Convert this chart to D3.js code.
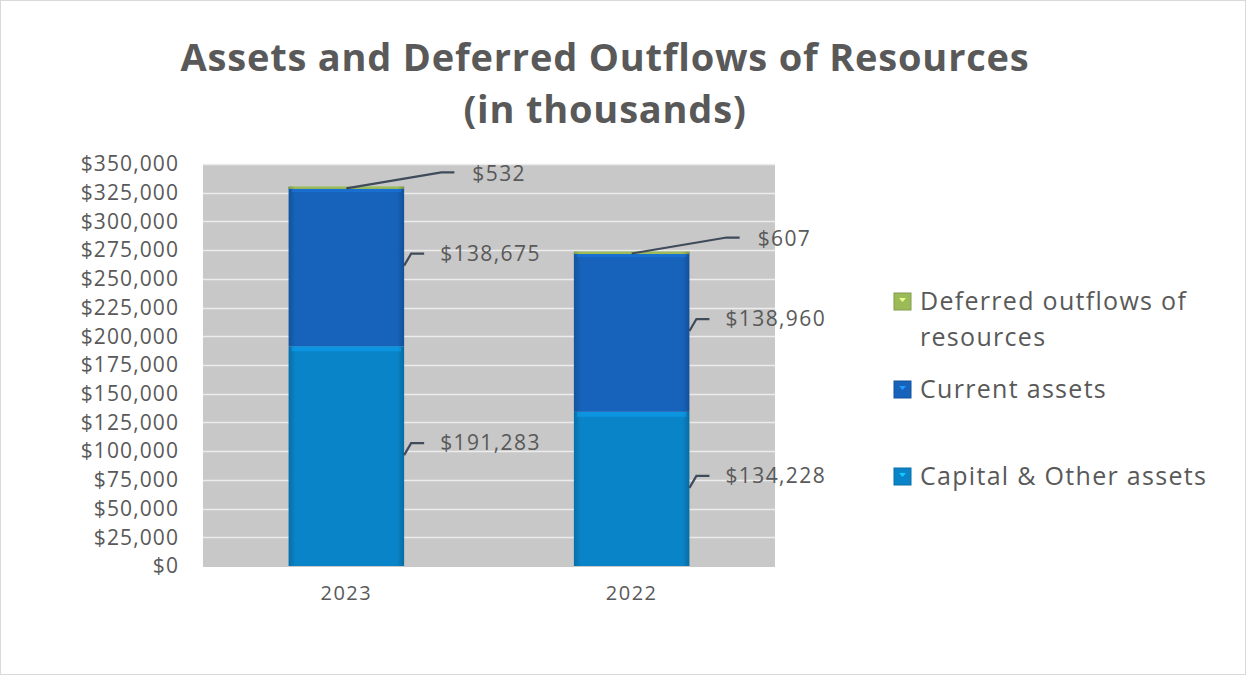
<!DOCTYPE html>
<html>
<head>
<meta charset="utf-8">
<script src="https://cdn.jsdelivr.net/npm/d3@7"></script>
<style>
  html, body { margin: 0; padding: 0; background: #fff; }
  svg { display: block; }
  text { font-family: "Open Sans", "Noto Sans", sans-serif; fill: #595959; }
</style>
</head>
<body>
<svg id="chart" width="1246" height="675"></svg>
<script>
// ---- data ----
const categories = ["2023", "2022"];
const seriesNames = ["Capital & Other assets", "Current assets", "Deferred outflows of resources"];
const capitalOther = [191283, 134228];
const currentAssets = [138675, 138960];
const deferredOutflows = [532, 607];
const yTicks = [0, 25000, 50000, 75000, 100000, 125000, 150000, 175000, 200000, 225000, 250000, 275000, 300000, 325000, 350000];
const titleLines = ["Assets and Deferred Outflows of Resources", "(in thousands)"];
const legendOrder = ["Deferred outflows of resources", "Current assets", "Capital & Other assets"];
const legendLines = [["Deferred outflows of", "resources"], ["Current assets"], ["Capital & Other assets"]];

const colors = {
  "Capital & Other assets": "#0a84c8",
  "Current assets": "#1763bb",
  "Deferred outflows of resources": "#9bbb59"
};

const svg = d3.select("#chart");
const W = 1246, H = 675;

// frame
svg.append("rect").attr("x", 0.5).attr("y", 0.5).attr("width", W - 1).attr("height", H - 1)
  .attr("fill", "#fff").attr("stroke", "#d9d9d9");

// title
svg.append("text").attr("x", 605).attr("y", 71).attr("text-anchor", "middle")
  .attr("font-size", 38).attr("font-weight", "bold").attr("letter-spacing", 0.8).text(titleLines[0]);
svg.append("text").attr("x", 605).attr("y", 123).attr("text-anchor", "middle")
  .attr("font-size", 38).attr("font-weight", "bold").attr("letter-spacing", 0.8).text(titleLines[1]);

// scales
const plot = { left: 203, right: 775, top: 164, bottom: 566 };
const x = d3.scaleBand().domain(categories).range([plot.left, plot.right]).paddingInner(0.595).paddingOuter(0.3);
const y = d3.scaleLinear().domain([0, 350000]).range([plot.bottom, plot.top]);

// plot background
svg.append("rect").attr("x", plot.left).attr("y", plot.top).attr("width", plot.right - plot.left)
  .attr("height", plot.bottom - plot.top + 1).attr("fill", "#c8c8c8");

// gridlines
svg.append("g").selectAll("line").data(yTicks.filter(d => d > 0)).join("line")
  .attr("x1", plot.left).attr("x2", plot.right)
  .attr("y1", d => Math.round(y(d)) + 0.5).attr("y2", d => Math.round(y(d)) + 0.5)
  .attr("stroke", "#ececec").attr("stroke-width", 1.6);

// y axis labels
const yAxis = d3.axisLeft(y).tickValues(yTicks).tickSize(0).tickPadding(0)
  .tickFormat(d => "$" + d3.format(",")(d));
const yg = svg.append("g").attr("transform", `translate(179,0)`).call(yAxis);
yg.select(".domain").remove();
yg.selectAll("text").attr("font-size", 21).attr("letter-spacing", 1.1)
  .attr("font-family", "\"Open Sans\", sans-serif").attr("fill", "#595959");

// x axis labels
const xAxis = d3.axisBottom(x).tickSize(0).tickPadding(0);
const xg = svg.append("g").attr("transform", `translate(0,586)`).call(xAxis);
xg.select(".domain").remove();
xg.selectAll("text").attr("font-size", 20).attr("letter-spacing", 1.5)
  .attr("font-family", "\"Open Sans\", sans-serif").attr("fill", "#595959");

// stacked data
const table = categories.map((c, i) => ({
  category: c,
  "Capital & Other assets": capitalOther[i],
  "Current assets": currentAssets[i],
  "Deferred outflows of resources": deferredOutflows[i]
}));
const stack = d3.stack().keys(seriesNames)(table);

// gradients for bevel look
const defs = svg.append("defs");
function grad(id, base) {
  const c = d3.color(base);
  const g = defs.append("linearGradient").attr("id", id).attr("x1", 0).attr("x2", 1).attr("y1", 0).attr("y2", 0);
  g.append("stop").attr("offset", "0%").attr("stop-color", c.darker(0.5));
  g.append("stop").attr("offset", "6%").attr("stop-color", base);
  g.append("stop").attr("offset", "94%").attr("stop-color", base);
  g.append("stop").attr("offset", "100%").attr("stop-color", c.darker(0.6));
}
grad("g0", colors["Capital & Other assets"]);
grad("g1", colors["Current assets"]);
grad("g2", colors["Deferred outflows of resources"]);

const bars = svg.append("g");
stack.forEach((layer, li) => {
  const key = layer.key;
  const g = bars.append("g");
  g.selectAll("rect.seg").data(layer).join("rect").attr("class", "seg")
    .attr("x", d => x(d.data.category))
    .attr("y", d => y(d[1]))
    .attr("width", x.bandwidth())
    .attr("height", d => Math.max(2.5, y(d[0]) - y(d[1])))
    .attr("fill", `url(#g${li})`);
  if (li < 2) {
    // top highlight bevel
    g.selectAll("rect.hl").data(layer).join("rect").attr("class", "hl")
      .attr("x", d => x(d.data.category) + 3)
      .attr("y", d => y(d[1]))
      .attr("width", x.bandwidth() - 6)
      .attr("height", 5)
      .attr("fill", d3.color(colors[key]).brighter(0.5))
      .attr("opacity", 0.6);
  }
});

// data labels with leader lines
const labels = svg.append("g");
const fmt = d => "$" + d3.format(",")(d);
stack.forEach((layer, li) => {
  layer.forEach(d => {
    const bx = x(d.data.category);
    const bw = x.bandwidth();
    const val = d[1] - d[0];
    let pts, tx, ty;
    if (li < 2) {
      const mid = (y(d[0]) + y(d[1])) / 2;
      const sx = bx + bw;
      pts = [[sx, mid - 1], [sx + 7, mid - 13], [sx + 20, mid - 13]];
      tx = sx + 36; ty = mid - 13;
    } else {
      const top = y(d[1]);
      const sx = bx + bw / 2;
      pts = [[sx, top + 2], [sx + 95, top - 14], [sx + 108, top - 14]];
      tx = sx + 126; ty = top - 13;
    }
    labels.append("path").attr("d", d3.line()(pts)).attr("fill", "none")
      .attr("stroke", "#3f4a5a").attr("stroke-width", 2.2);
    labels.append("text").attr("x", tx).attr("y", ty).attr("dy", "0.35em")
      .attr("font-size", 21).attr("letter-spacing", 1.4).text(fmt(val));
  });
});

// legend
const legendY = [301, 389, 476];
const lg = svg.append("g");
legendOrder.forEach((name, i) => {
  const cy = legendY[i];
  const c = d3.color(colors[name]);
  lg.append("rect").attr("x", 894).attr("y", cy - 8).attr("width", 17).attr("height", 17)
    .attr("fill", colors[name]).attr("stroke", c.darker(0.5)).attr("stroke-width", 1);
  lg.append("path").attr("d", `M899,${cy - 3}L902.5,${cy + 1}L906,${cy - 3}Z`)
    .attr("fill", c.brighter(1.2));
  legendLines[i].forEach((t, j) => {
    lg.append("text").attr("x", 920).attr("y", cy + j * 36).attr("dy", "0.35em")
      .attr("font-size", 25).attr("letter-spacing", 1.3).text(t);
  });
});
</script>
</body>
</html>
